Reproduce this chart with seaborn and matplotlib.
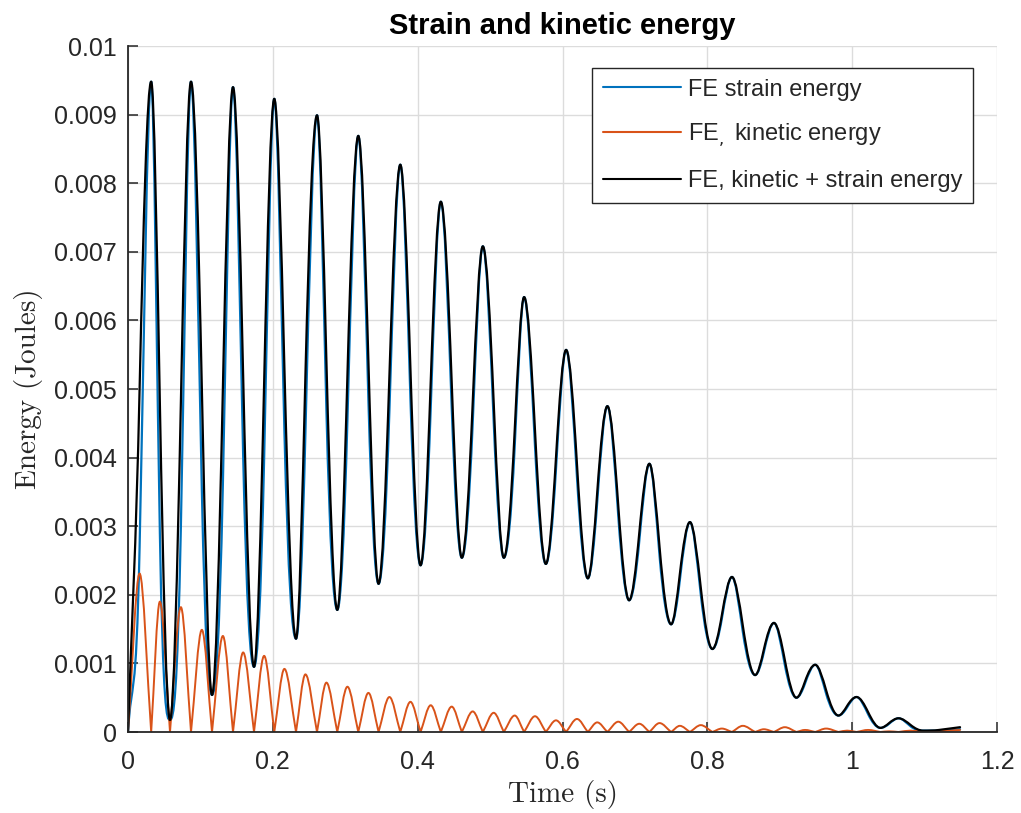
import matplotlib
matplotlib.use("Agg")
import matplotlib.pyplot as plt
from matplotlib.path import Path
from matplotlib.patches import PathPatch
from matplotlib.lines import Line2D
import numpy as np
import pandas as pd
import seaborn as sns

# ---------------- data ----------------
# samples: start, then per cycle [kinetic peak, energy peak, kinetic peak, energy trough], then tail
time_s = [0.000,
          0.016, 0.032, 0.044, 0.058,
          0.073, 0.087, 0.102, 0.116,
          0.131, 0.145, 0.159, 0.174,
          0.188, 0.202, 0.216, 0.232,
          0.245, 0.261, 0.274, 0.289,
          0.303, 0.318, 0.332, 0.346,
          0.361, 0.376, 0.390, 0.404,
          0.418, 0.432, 0.447, 0.461,
          0.476, 0.490, 0.505, 0.519,
          0.534, 0.547, 0.562, 0.577,
          0.591, 0.605, 0.620, 0.635,
          0.648, 0.662, 0.677, 0.692,
          0.706, 0.720, 0.734, 0.750,
          0.762, 0.776, 0.791, 0.807,
          0.820, 0.834, 0.849, 0.866,
          0.878, 0.892, 0.907, 0.923,
          0.935, 0.949, 0.964, 0.981,
          0.993, 1.006, 1.022, 1.039,
          1.051, 1.064, 1.081, 1.098,
          1.120, 1.149]

total_energy = [0.0,
                0.0050, 0.00948, 0.0048, 0.000175,
                0.0048, 0.00948, 0.0050, 0.00054,
                0.0050, 0.00940, 0.0052, 0.00095,
                0.0051, 0.00923, 0.0053, 0.00136,
                0.0052, 0.00899, 0.0054, 0.00178,
                0.0052, 0.00869, 0.0054, 0.00216,
                0.0052, 0.00827, 0.0053, 0.00243,
                0.0051, 0.00773, 0.0051, 0.00254,
                0.0048, 0.00708, 0.0048, 0.00254,
                0.0044, 0.00634, 0.0044, 0.00245,
                0.0040, 0.00557, 0.0039, 0.00224,
                0.0035, 0.00475, 0.0033, 0.00192,
                0.0029, 0.00391, 0.0027, 0.00157,
                0.0023, 0.00306, 0.0021, 0.00121,
                0.0017, 0.00226, 0.00155, 0.00083,
                0.0012, 0.00159, 0.00105, 0.00050,
                0.00074, 0.00098, 0.00061, 0.00024,
                0.00038, 0.00051, 0.00029, 0.00006,
                0.00013, 0.00020, 0.00010, 0.00002,
                0.00003, 0.00007]

kinetic_energy = [0.0,
                  0.00231, 0.0, 0.00190, 0.0,
                  0.00182, 0.0, 0.00149, 0.0,
                  0.00140, 0.0, 0.00116, 0.0,
                  0.00111, 0.0, 0.00092, 0.0,
                  0.00084, 0.0, 0.00072, 0.0,
                  0.00066, 0.0, 0.00057, 0.0,
                  0.00051, 0.0, 0.00044, 0.0,
                  0.00039, 0.0, 0.00037, 0.0,
                  0.00030, 0.0, 0.00028, 0.0,
                  0.00024, 0.0, 0.00023, 0.0,
                  0.00017, 0.0, 0.00019, 0.0,
                  0.00014, 0.0, 0.00015, 0.0,
                  0.00012, 0.0, 0.00013, 0.0,
                  0.00009, 0.0, 0.00010, 0.0,
                  0.00005, 0.0, 0.00009, 0.0,
                  0.00004, 0.0, 0.00007, 0.0,
                  0.00003, 0.0, 0.00005, 0.0,
                  0.00002, 0.0, 0.00003, 0.0,
                  0.00001, 0.0, 0.00002, 0.0,
                  0.00001, 0.00003]

series_labels = ["FE strain energy", "FE$_,$ kinetic energy", "FE, kinetic + strain energy"]
series_colors = ["#0072BD", "#D95319", "#000000"]

x_ticks = [0, 0.2, 0.4, 0.6, 0.8, 1.0, 1.2]
x_tick_labels = ["0", "0.2", "0.4", "0.6", "0.8", "1", "1.2"]
y_ticks = [0, 0.001, 0.002, 0.003, 0.004, 0.005, 0.006, 0.007, 0.008, 0.009, 0.01]
y_tick_labels = ["0", "0.001", "0.002", "0.003", "0.004", "0.005", "0.006",
                 "0.007", "0.008", "0.009", "0.01"]

df = pd.DataFrame({"time": time_s, "total": total_energy, "kinetic": kinetic_energy})
df["strain"] = df["total"] - df["kinetic"]


# ---------------- smooth rendering (cubic Bezier through the read samples) ----------------
def smooth_path(t, v, cusp_minima=False, k=1.57, kc=1.0):
    t = np.asarray(t, float)
    v = np.asarray(v, float)
    n = len(t)
    m_in = np.zeros(n)
    m_out = np.zeros(n)
    for i in range(n):
        if i == 0:
            s = (v[1] - v[0]) / (t[1] - t[0])
            m_in[i] = m_out[i] = s
            continue
        if i == n - 1:
            s = (v[i] - v[i - 1]) / (t[i] - t[i - 1])
            m_in[i] = m_out[i] = s
            continue
        left = (v[i] - v[i - 1]) / (t[i] - t[i - 1])
        right = (v[i + 1] - v[i]) / (t[i + 1] - t[i])
        is_max = v[i] >= v[i - 1] and v[i] >= v[i + 1]
        is_min = v[i] <= v[i - 1] and v[i] <= v[i + 1]
        if is_min and cusp_minima:
            m_in[i] = kc * left
            m_out[i] = kc * right
        elif is_max or is_min:
            m_in[i] = m_out[i] = 0.0
        else:
            s = k * (v[i + 1] - v[i - 1]) / (t[i + 1] - t[i - 1])
            lim = 3 * min(abs(left), abs(right))
            s = np.sign(s) * min(abs(s), lim)
            m_in[i] = m_out[i] = s
    verts = [(t[0], v[0])]
    codes = [Path.MOVETO]
    for i in range(n - 1):
        h = t[i + 1] - t[i]
        verts += [(t[i] + h / 3, v[i] + m_out[i] * h / 3),
                  (t[i + 1] - h / 3, v[i + 1] - m_in[i + 1] * h / 3),
                  (t[i + 1], v[i + 1])]
        codes += [Path.CURVE4] * 3
    return Path(verts, codes)


sns.set_theme(style="whitegrid")
plt.rcParams["font.family"] = ["Liberation Sans", "DejaVu Sans"]

fig = plt.figure(figsize=(10.21, 8.13), dpi=100)
ax = fig.add_axes([128 / 1021, 1 - 732 / 813, 869 / 1021, 686 / 813])
ax.set_facecolor("white")
ax.set_axisbelow(True)

specs = [("strain", False, 1.6), ("kinetic", True, 1.4), ("total", False, 1.6)]
handles = []
for (col, cusp, lw), lab, c, z in zip(specs, series_labels, series_colors, [2.0, 2.1, 2.2]):
    p = smooth_path(df["time"], df[col], cusp_minima=cusp)
    ax.add_patch(PathPatch(p, facecolor="none", edgecolor=c, lw=lw, zorder=z,
                           capstyle="round", joinstyle="round"))
    handles.append(Line2D([], [], color=c, lw=1.5))

ax.set_xlim(0, 1.2)
ax.set_ylim(0, 0.01)
ax.set_xticks(x_ticks)
ax.set_xticklabels(x_tick_labels)
ax.set_yticks(y_ticks)
ax.set_yticklabels(y_tick_labels)

ax.grid(True, color="#dcdcdc", lw=1.0)
for s in ["top", "right"]:
    ax.spines[s].set_visible(False)
for s in ["left", "bottom"]:
    ax.spines[s].set_visible(True)
    ax.spines[s].set_color("#262626")
    ax.spines[s].set_linewidth(1.3)
    ax.spines[s].set_zorder(3)

ax.tick_params(axis="both", direction="in", length=7, width=1.1, color="#262626",
               labelsize=18, labelcolor="#262626", left=True, bottom=True)
ax.tick_params(axis="x", pad=13)
ax.tick_params(axis="y", pad=8)

ax.set_xlabel("Time (s)", fontfamily="cmr10", fontsize=21, color="#262626", labelpad=4)
ax.set_ylabel("Energy (Joules)", fontfamily="cmr10", fontsize=21, color="#262626", labelpad=8)
ax.set_title("Strain and kinetic energy", fontsize=21, fontweight="bold", color="black", pad=9)

leg = ax.legend(handles, series_labels, loc="upper right", bbox_to_anchor=(0.9724, 0.968),
                borderaxespad=0, fontsize=17, frameon=True, fancybox=False,
                edgecolor="#262626", framealpha=1, handlelength=3.3, labelspacing=0.9,
                borderpad=0.45, handletextpad=0.3)
leg.get_frame().set_linewidth(1.0)

fig.savefig("out.png", dpi=100)
